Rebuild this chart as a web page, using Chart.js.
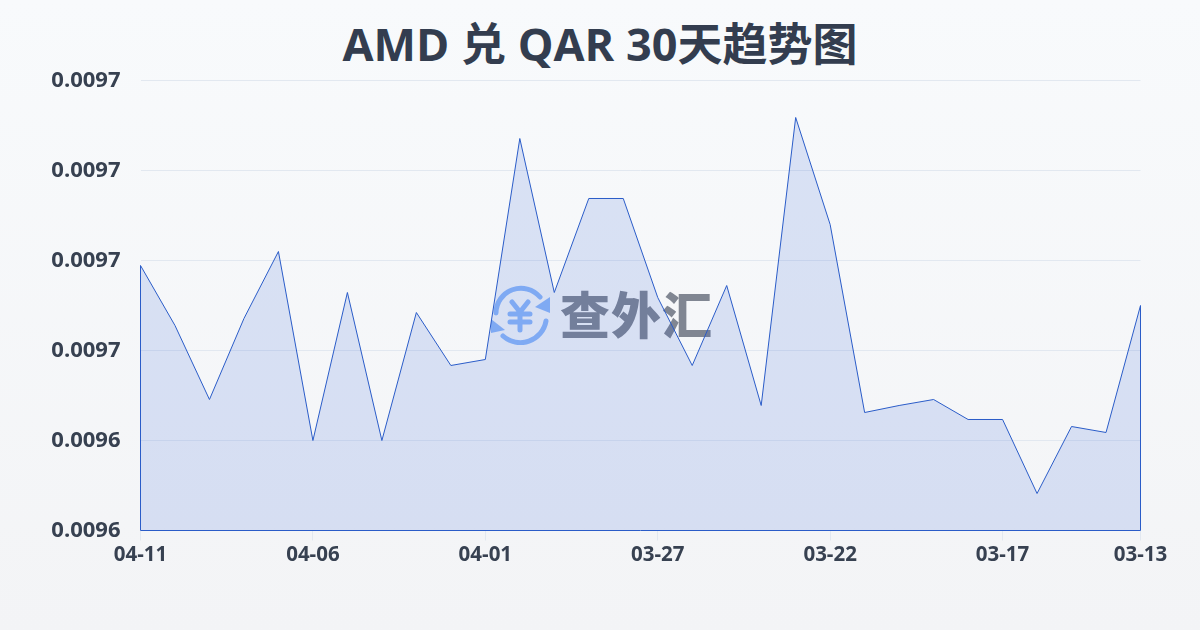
<!DOCTYPE html>
<html>
<head>
<meta charset="utf-8">
<script src="https://cdn.jsdelivr.net/npm/chart.js@4"></script>
<style>
  html, body { margin: 0; padding: 0; }
  body { width: 1200px; height: 630px; overflow: hidden; position: relative; background: linear-gradient(180deg, #f8fafc 0%, #f3f4f6 100%); }
  #mark { position: absolute; left: 490px; top: 285px; width: 60px; height: 60px; }
  #markText { position: absolute; left: 560px; top: 279px; font: 900 50px/66px "Noto Sans CJK SC"; color: #808692; letter-spacing: 1px; white-space: nowrap; }
  #title { position: absolute; left: 0; top: 10px; width: 1200px; margin: 0; text-align: center; font: bold 45px/68px "Open Sans","Noto Sans CJK SC"; color: #333d4f; }
  #chart { position: absolute; left: 0; top: 0; }
</style>
</head>
<body>
<h1 id="title">AMD 兑 QAR 30天趋势图</h1>
<svg id="mark" viewBox="0 0 60 60" fill="none" stroke="#8fb8f8" stroke-width="5" stroke-linecap="round">
  <path d="M6 28 A25 25 0 0 1 50 12"/>
  <path d="M56 36 A26 26 0 0 1 13 51"/>
  <path d="M60 12 L60 28 L45 22 Z" fill="#8fb8f8" stroke="none"/>
  <path d="M1 34 L15 45 L1 48 Z" fill="#8fb8f8" stroke="none"/>
  <path d="M22 17 L30 27 L38 17 M20 29 H40 M20 37 H40 M30 27 V45"/>
</svg>
<div id="markText">查外汇</div>
<canvas id="chart" width="1200" height="630"></canvas>
<script>
const dates = ['04-11','04-10','04-09','04-08','04-07','04-06','04-05','04-04','04-03','04-02',
  '04-01','03-31','03-30','03-29','03-28','03-27','03-26','03-25','03-24','03-23',
  '03-22','03-21','03-20','03-19','03-18','03-17','03-16','03-15','03-14','03-13'];
const rates = [0.00967889,0.00966556,0.00964911,0.00966711,0.00968200,0.00964000,0.00967289,0.00964000,0.00966844,0.00965667,
  0.00965800,0.00970711,0.00967289,0.00969378,0.00969378,0.00967178,0.00965667,0.00967444,0.00964778,0.00971178,
  0.00968800,0.00964622,0.00964778,0.00964911,0.00964467,0.00964467,0.00962822,0.00964311,0.00964178,0.00967000];
const labelledDates = ['04-11','04-06','04-01','03-27','03-22','03-17','03-13'];

// closes the line down to the axis, the fill alone has no edge there
const outline = {
  id: 'outline',
  afterDatasetsDraw(chart) {
    const { ctx, chartArea } = chart;
    const pts = chart.getDatasetMeta(0).data;
    ctx.save();
    ctx.strokeStyle = '#2a5cc8';
    ctx.lineWidth = 1;
    ctx.beginPath();
    ctx.moveTo(pts[0].x, pts[0].y);
    ctx.lineTo(pts[0].x, chartArea.bottom);
    ctx.lineTo(pts[pts.length - 1].x, chartArea.bottom);
    ctx.lineTo(pts[pts.length - 1].x, pts[pts.length - 1].y);
    ctx.stroke();
    ctx.restore();
  }
};

new Chart(document.getElementById('chart'), {
  type: 'line',
  data: {
    labels: dates,
    datasets: [{
      data: rates,
      borderColor: '#2a5cc8',
      borderWidth: 1,
      backgroundColor: 'rgba(37,85,210,0.14)',
      fill: 'start',
      pointRadius: 0,
      tension: 0,
    }],
  },
  options: {
    responsive: false,
    animation: false,
    devicePixelRatio: 1,
    layout: { padding: { top: 80.5, right: 59.5 } },
    plugins: {
      legend: { display: false },
      tooltip: { enabled: false },
    },
    scales: {
      x: {
        grid: {
          display: true,
          drawOnChartArea: false,
          tickLength: 10,
          tickColor(c) { return labelledDates.includes(dates[c.index]) ? '#e2e8f0' : 'transparent'; },
        },
        border: { display: false },
        afterFit(scale) { scale.height = 99.5; },
        ticks: {
          autoSkip: false,
          maxRotation: 0,
          padding: 2,
          color: '#374151',
          font: { size: 20.5, weight: 'bold', family: '"Open Sans"' },
          callback(value) {
            const d = this.getLabelForValue(value);
            return labelledDates.includes(d) ? d : '';
          },
        },
      },
      y: {
        min: 0.00962,
        max: 0.00972,
        afterFit(scale) { scale.width = 140.5; },
        grid: { color: '#e2e8f0', drawTicks: false },
        border: { display: false },
        ticks: {
          stepSize: 0.00002,
          padding: 20,
          color: '#374151',
          font: { size: 22, weight: 'bold', family: '"Open Sans"' },
          callback: v => v.toFixed(4),
        },
      },
    },
  },
  plugins: [outline],
});
</script>
</body>
</html>
